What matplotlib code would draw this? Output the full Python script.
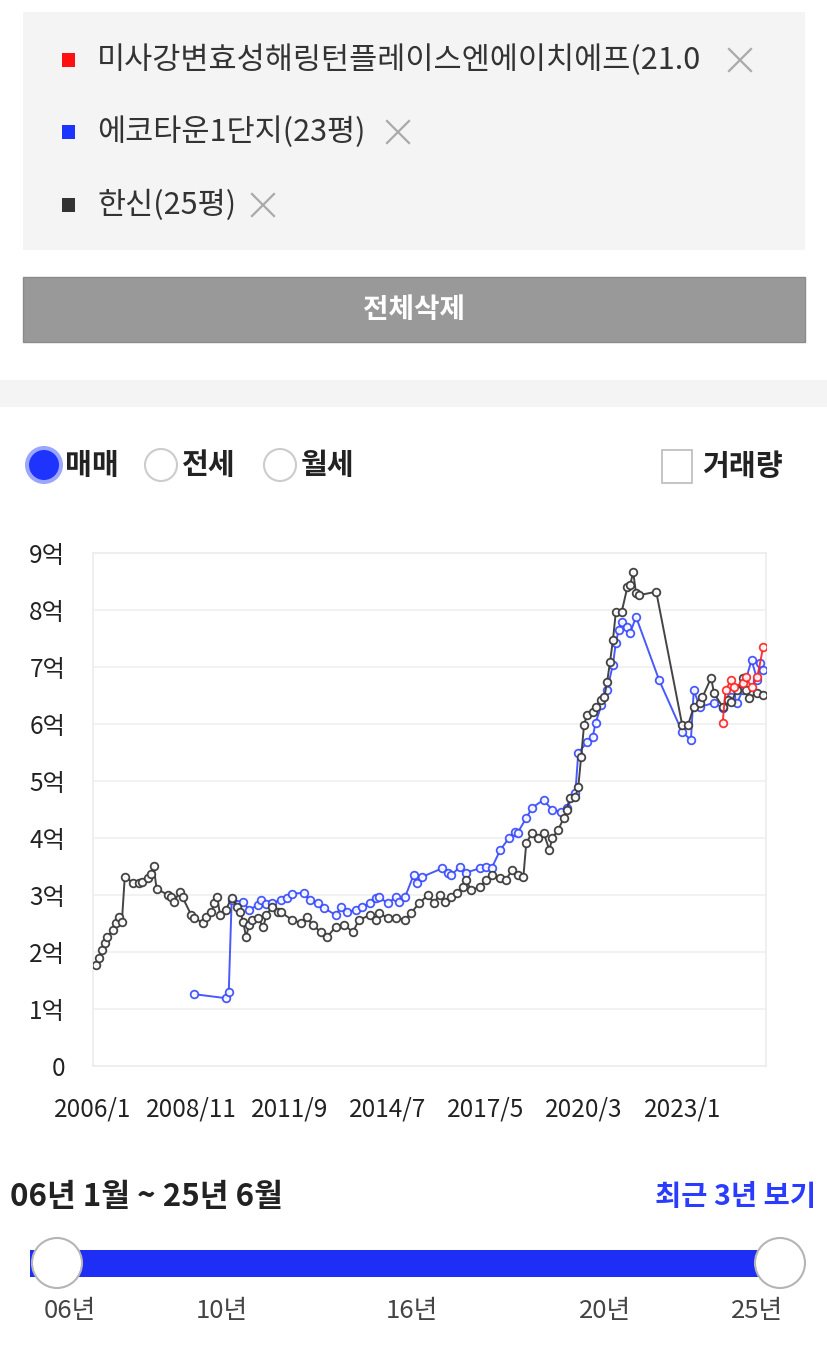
import matplotlib
matplotlib.use("Agg")
import matplotlib.pyplot as plt
from matplotlib.patches import Rectangle, Circle

plt.rcParams['font.family'] = ['Noto Sans CJK KR', 'DejaVu Sans']

# ---------------- data (prices in 억 원) ----------------
period_start = "2006-01"
period_end = "2025-06"

series_names = [
    "미사강변효성해링턴플레이스엔에이치에프(21.0",
    "에코타운1단지(23평)",
    "한신(25평)",
]
series_colors = ["#ff1010", "#1a33ff", "#333333"]

hanshin_dates = [
    "2006-02", "2006-03", "2006-04", "2006-05", "2006-06", "2006-08", "2006-09", "2006-10",
    "2006-11", "2006-12", "2007-03", "2007-05", "2007-06", "2007-08", "2007-09", "2007-10",
    "2007-11", "2008-03", "2008-04", "2008-05", "2008-07", "2008-08", "2008-11", "2008-12",
    "2009-03", "2009-04", "2009-06", "2009-07", "2009-08", "2009-09", "2009-11", "2010-01",
    "2010-03", "2010-04", "2010-05", "2010-06", "2010-07", "2010-08", "2010-10", "2010-12",
    "2011-01", "2011-03", "2011-05", "2011-06", "2011-10", "2012-01", "2012-03", "2012-05",
    "2012-08", "2012-10", "2013-01", "2013-04", "2013-07", "2013-09", "2014-01", "2014-03",
    "2014-04", "2014-07", "2014-10", "2015-01", "2015-03", "2015-06", "2015-09", "2015-11",
    "2016-01", "2016-03", "2016-05", "2016-07", "2016-09", "2016-10", "2016-12", "2017-03",
    "2017-05", "2017-07", "2017-10", "2017-12", "2018-02", "2018-04", "2018-06", "2018-07",
    "2018-09", "2018-11", "2019-01", "2019-03", "2019-04", "2019-06", "2019-08", "2019-09",
    "2019-10", "2019-12", "2020-01", "2020-02", "2020-03", "2020-04", "2020-06", "2020-07",
    "2020-09", "2020-10", "2020-11", "2020-12", "2021-01", "2021-02", "2021-04", "2021-06",
    "2021-07", "2021-08", "2021-09", "2021-10", "2022-04", "2023-01", "2023-03", "2023-05",
    "2023-07", "2023-08", "2023-11", "2023-12", "2024-03", "2024-05", "2024-06", "2024-08",
    "2024-10", "2024-11", "2024-12", "2025-03", "2025-05",
]
hanshin_prices = [
    1.77, 1.90, 2.03, 2.16, 2.26, 2.39, 2.51, 2.61,
    2.53, 3.32, 3.21, 3.21, 3.23, 3.30, 3.37, 3.51,
    3.11, 3.00, 2.96, 2.88, 3.05, 2.96, 2.65, 2.60,
    2.51, 2.61, 2.70, 2.86, 2.96, 2.65, 2.74, 2.95,
    2.79, 2.70, 2.53, 2.26, 2.47, 2.56, 2.60, 2.44,
    2.65, 2.79, 2.70, 2.70, 2.56, 2.51, 2.61, 2.47,
    2.35, 2.26, 2.44, 2.47, 2.35, 2.56, 2.65, 2.56,
    2.68, 2.60, 2.60, 2.56, 2.68, 2.86, 3.00, 2.86,
    3.00, 2.88, 2.96, 3.04, 3.14, 3.26, 3.09, 3.14,
    3.26, 3.35, 3.30, 3.26, 3.44, 3.35, 3.32, 3.91,
    4.09, 4.00, 4.09, 3.79, 4.00, 4.14, 4.35, 4.49,
    4.70, 4.72, 4.89, 5.42, 5.98, 6.16, 6.21, 6.30,
    6.42, 6.47, 6.74, 7.09, 7.47, 7.96, 7.96, 8.40,
    8.44, 8.67, 8.30, 8.26, 8.32, 5.98, 5.98, 6.30,
    6.37, 6.47, 6.81, 6.54, 6.30, 6.42, 6.39, 6.60,
    6.81, 6.60, 6.46, 6.54, 6.51,
]

ecotown_dates = [
    "2008-12", "2009-11", "2009-12", "2010-01", "2010-05", "2010-07", "2010-10", "2010-11",
    "2011-01", "2011-03", "2011-06", "2011-08", "2011-10", "2012-02", "2012-04", "2012-07",
    "2012-09", "2013-01", "2013-03", "2013-05", "2013-08", "2013-10", "2014-01", "2014-03",
    "2014-04", "2014-07", "2014-10", "2014-11", "2015-01", "2015-04", "2015-05", "2015-07",
    "2016-02", "2016-04", "2016-05", "2016-08", "2016-10", "2017-03", "2017-05", "2017-07",
    "2017-10", "2018-01", "2018-03", "2018-04", "2018-07", "2018-09", "2019-01", "2019-04",
    "2019-07", "2019-09", "2019-12", "2020-01", "2020-04", "2020-06", "2020-07", "2020-09",
    "2020-11", "2021-01", "2021-02", "2021-03", "2021-04", "2021-06", "2021-07", "2021-09",
    "2022-05", "2023-01", "2023-04", "2023-05", "2023-07", "2023-12", "2024-03", "2024-06",
    "2024-08", "2024-10", "2025-01", "2025-03", "2025-04", "2025-05",
]
ecotown_prices = [
    1.26, 1.19, 1.30, 2.91, 2.88, 2.74, 2.82, 2.91,
    2.84, 2.86, 2.91, 2.95, 3.02, 3.04, 2.91, 2.86,
    2.77, 2.65, 2.79, 2.70, 2.74, 2.79, 2.86, 2.95,
    2.96, 2.86, 2.96, 2.88, 2.96, 3.35, 3.21, 3.32,
    3.47, 3.39, 3.35, 3.49, 3.39, 3.47, 3.49, 3.47,
    3.79, 4.00, 4.11, 4.09, 4.35, 4.53, 4.67, 4.49,
    4.46, 4.53, 4.79, 5.49, 5.68, 5.77, 6.02, 6.33,
    6.60, 7.04, 7.42, 7.65, 7.79, 7.70, 7.60, 7.88,
    6.77, 5.86, 5.72, 6.60, 6.30, 6.37, 6.28, 6.47,
    6.37, 6.60, 7.12, 6.77, 7.07, 6.95,
]

misa_dates = [
    "2024-03", "2024-04", "2024-06", "2024-07", "2024-10", "2024-11", "2025-01", "2025-03",
    "2025-05",
]
misa_prices = [6.02, 6.60, 6.77, 6.65, 6.72, 6.82, 6.65, 6.82, 7.35]

x_tick_labels = ["2006/1", "2008/11", "2011/9", "2014/7", "2017/5", "2020/3", "2023/1"]
y_tick_labels = ["0", "1억", "2억", "3억", "4억", "5억", "6억", "7억", "8억", "9억"]

price_types = ["매매", "전세", "월세"]
volume_label = "거래량"
delete_label = "전체삭제"
range_label = "06년 1월 ~ 25년 6월"
recent_label = "최근 3년 보기"
slider_labels = ["06년", "10년", "16년", "20년", "25년"]


def month_offset(s):
    s = s.replace("/", "-")
    y, m = s.split("-")
    y0, m0 = period_start.split("-")
    return (int(y) - int(y0)) * 12 + int(m) - int(m0)


W, H = 827, 1353
fig = plt.figure(figsize=(W / 100, H / 100), dpi=100)
fig.patch.set_facecolor("white")

# full-figure canvas in pixel coordinates for the surrounding panel widgets
ui = fig.add_axes([0, 0, 1, 1])
ui.set_xlim(0, W)
ui.set_ylim(H, 0)
ui.axis("off")

# selection list panel
ui.add_patch(Rectangle((23, 12), 782, 238, facecolor="#f4f4f4", edgecolor="none"))
row_y = [60, 132, 205]
x_after = [740, 398, 263]
for name, col, yy, xx in zip(series_names, series_colors, row_y, x_after):
    ui.add_patch(Rectangle((62, yy - 7), 13, 14, facecolor=col, edgecolor="none"))
    ui.text(97, yy, name, fontsize=22, color="#333333", va="center", ha="left")
    ui.plot([xx - 11, xx + 11], [yy - 11, yy + 11], color="#aaaaaa", lw=1.6)
    ui.plot([xx - 11, xx + 11], [yy + 11, yy - 11], color="#aaaaaa", lw=1.6)

# delete-all button
ui.add_patch(Rectangle((23, 277), 782, 65, facecolor="#999999", edgecolor="#8a8a8a", lw=1))
ui.text(414, 310, delete_label, fontsize=20, color="white", fontweight="bold",
        va="center", ha="center")

# separator band
ui.add_patch(Rectangle((0, 380), W, 27, facecolor="#f4f4f4", edgecolor="none"))

# price type radio buttons
radio_x = [44, 161, 280]
for i, (lab, cx) in enumerate(zip(price_types, radio_x)):
    if i == 0:
        ui.add_patch(Circle((cx, 465), 19, facecolor="#9aa6ff", edgecolor="none"))
        ui.add_patch(Circle((cx, 465), 15, facecolor="#1f33ff", edgecolor="none"))
    else:
        ui.add_patch(Circle((cx, 465), 16, facecolor="white", edgecolor="#cccccc", lw=1.5))
    ui.text(cx + 21, 465, lab, fontsize=21, fontweight="bold", color="#222222",
            va="center", ha="left")

ui.add_patch(Rectangle((662, 450), 30, 33, facecolor="white", edgecolor="#bbbbbb", lw=1.2))
ui.text(702, 466, volume_label, fontsize=21, fontweight="bold", color="#222222",
        va="center", ha="left")

# range summary and slider
ui.text(10, 1197, range_label, fontsize=22.5, fontweight="bold", color="#222222",
        va="center", ha="left")
ui.text(816, 1197, recent_label, fontsize=20.5, fontweight="bold", color="#2a3cff",
        va="center", ha="right")

slider_left, slider_right = 57, 780
ui.add_patch(Rectangle((30, 1250), slider_right - 30, 27, facecolor="#1f2ef5", edgecolor="none"))
for hx in (slider_left, slider_right):
    ui.add_patch(Circle((hx, 1263), 25, facecolor="white", edgecolor="#b5b5b5", lw=1.5))
slider_label_x = [70, 222, 412, 605, 757]
for lab, lx in zip(slider_labels, slider_label_x):
    ui.text(lx, 1311, lab, fontsize=18.5, color="#444444", va="center", ha="center")

# ---------------- price chart ----------------
ax_left, ax_right, ax_top, ax_bottom = 93, 766, 553, 1066
ax = fig.add_axes([ax_left / W, 1 - ax_bottom / H, (ax_right - ax_left) / W,
                   (ax_bottom - ax_top) / H])
ax.set_facecolor("white")
ax.set_xlim(0, month_offset(period_end))
ax.set_ylim(0, len(y_tick_labels) - 1)

ax.set_yticks(range(len(y_tick_labels)))
ax.set_yticklabels(y_tick_labels)
ax.set_xticks([month_offset(t) for t in x_tick_labels])
ax.set_xticklabels(x_tick_labels)
ax.tick_params(axis="both", length=0, labelsize=17.5, colors="#222222")
ax.tick_params(axis="y", pad=20)
ax.tick_params(axis="x", pad=22)
ax.grid(axis="y", color="#f0f0f0", lw=1.2)
ax.set_axisbelow(True)
for sp in ax.spines.values():
    sp.set_color("#ececec")
    sp.set_linewidth(1.2)

plot_order = [
    (ecotown_dates, ecotown_prices, "#3447ff", 0.9),
    (hanshin_dates, hanshin_prices, "#3a3a3a", 0.95),
    (misa_dates, misa_prices, "#ff2020", 0.9),
]
for dates, prices, col, alpha in plot_order:
    xs = [month_offset(d) for d in dates]
    ax.plot(xs, prices, color=col, lw=1.4, alpha=alpha, marker="o", ms=5.5,
            mfc="white", mec=col, mew=1.3, zorder=3)

fig.savefig("out.png", dpi=100, facecolor="white")
